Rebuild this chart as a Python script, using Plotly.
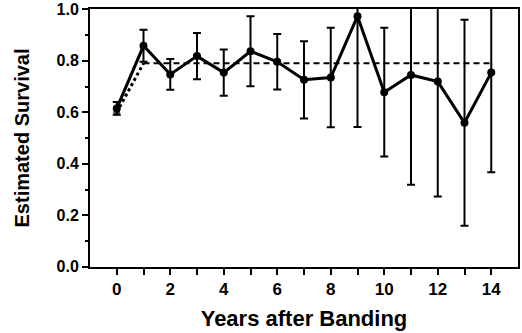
import plotly.graph_objects as go

years = list(range(15))
survival = [0.615, 0.858, 0.747, 0.818, 0.754, 0.837, 0.796, 0.726, 0.735,
            0.973, 0.678, 0.745, 0.719, 0.559, 0.754]
survival_err = [0.025, 0.062, 0.06, 0.09, 0.09, 0.136, 0.108, 0.15, 0.193,
                0.43, 0.25, 0.427, 0.446, 0.40, 0.387]

model_first_years = [0, 1]
model_first_values = [0.600, 0.790]
model_rest_years = [1, 14]
model_rest_values = [0.790, 0.790]

x_tickvals = list(range(0, 15))
x_ticktext = [str(v) if v % 2 == 0 else "" for v in x_tickvals]
y_tickvals = [0.0, 0.2, 0.4, 0.6, 0.8, 1.0]
y_ticktext = ["0.0", "0.2", "0.4", "0.6", "0.8", "1.0"]

font_family = "Liberation Sans, Arial, Helvetica, sans-serif"

fig = go.Figure()

fig.add_trace(go.Scatter(
    x=model_first_years, y=model_first_values, mode="lines+markers",
    line=dict(color="black", width=3, dash="dot"),
    marker=dict(color="black", size=[8, 0]),
    showlegend=False,
))
fig.add_trace(go.Scatter(
    x=model_rest_years, y=model_rest_values, mode="lines",
    line=dict(color="black", width=2, dash="6px,4px"),
    showlegend=False,
))
fig.add_trace(go.Scatter(
    x=years, y=survival, mode="lines+markers",
    line=dict(color="black", width=3),
    marker=dict(color="black", size=8),
    error_y=dict(type="data", array=survival_err, visible=True,
                 color="black", thickness=2, width=4),
    showlegend=False,
))

fig.update_layout(
    width=522, height=333,
    margin=dict(l=90, r=4, t=9, b=66),
    paper_bgcolor="white", plot_bgcolor="white",
    font=dict(family=font_family, color="black"),
)
fig.update_xaxes(
    range=[-1, 15], tickvals=x_tickvals, ticktext=x_ticktext,
    ticks="outside", ticklen=6, tickwidth=2, tickcolor="black",
    showline=True, linecolor="black", linewidth=2, mirror=True,
    showgrid=False, zeroline=False, automargin=False,
    tickfont=dict(size=17, family=font_family, weight="bold"),
    title=dict(text="<b>Years after Banding</b>", font=dict(size=22), standoff=12),
)
fig.update_yaxes(
    range=[-0.001, 1.001], tickvals=y_tickvals, ticktext=y_ticktext,
    ticks="outside", ticklen=6, tickwidth=2, tickcolor="black",
    ticklabeloverflow="allow",
    minor=dict(dtick=0.1, ticklen=3, tickwidth=2, tickcolor="black", ticks="outside"),
    showline=True, linecolor="black", linewidth=2, mirror=True,
    showgrid=False, zeroline=False, automargin=False,
    tickfont=dict(size=16, family=font_family, weight="bold"),
    title=dict(text="<b>Estimated Survival</b>", font=dict(size=20), standoff=22),
)

fig.write_html(
    "out.html",
    config={"displayModeBar": False},
    post_script="document.body.style.margin='0';document.body.style.overflow='hidden';",
)
